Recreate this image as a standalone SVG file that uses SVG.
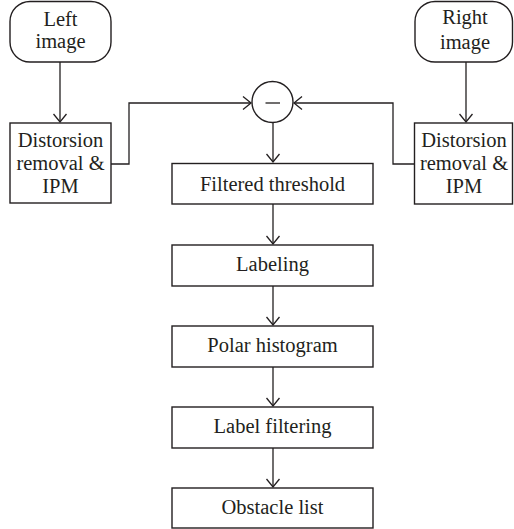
<svg xmlns="http://www.w3.org/2000/svg" width="514" height="529" viewBox="0 0 514 529">
<defs>
<marker id="arr" markerWidth="12" markerHeight="14" refX="9" refY="7" orient="auto" markerUnits="userSpaceOnUse">
<path d="M1,0.5 L9,7 L1,13.5" fill="none" stroke="#231f20" stroke-width="1.3"/>
</marker>
</defs>
<style>
.b{fill:#fff;stroke:#231f20;stroke-width:1.4}
.t{font-family:"Liberation Serif","Times New Roman",serif;font-size:20.5px;fill:#231f20;text-anchor:middle}
.c{fill:none;stroke:#231f20;stroke-width:1.3}
</style>
<rect width="514" height="529" fill="#fff"/>
<g id="connectors">
<line class="c" x1="60" y1="62" x2="60" y2="122" marker-end="url(#arr)"/>
<line class="c" x1="466" y1="62" x2="466" y2="122" marker-end="url(#arr)"/>
<polyline class="c" points="111,164 129,164 129,103 251,103" marker-end="url(#arr)"/>
<polyline class="c" points="414,164 393,164 393,103 294,103" marker-end="url(#arr)"/>
<line class="c" x1="273" y1="123" x2="273" y2="162" marker-end="url(#arr)"/>
<line class="c" x1="273" y1="204" x2="273" y2="244" marker-end="url(#arr)"/>
<line class="c" x1="273" y1="286" x2="273" y2="325" marker-end="url(#arr)"/>
<line class="c" x1="273" y1="367" x2="273" y2="406" marker-end="url(#arr)"/>
<line class="c" x1="273" y1="448" x2="273" y2="487" marker-end="url(#arr)"/>
</g>
<g id="left-image">
<rect class="b" x="10" y="1.5" width="101" height="60.5" rx="20" ry="20"/>
<text class="t" x="60.5" y="26">Left</text>
<text class="t" x="60.5" y="48">image</text>
</g>
<g id="right-image">
<rect class="b" x="415" y="1.5" width="97.5" height="60.5" rx="20" ry="20"/>
<text class="t" x="465" y="24">Right</text>
<text class="t" x="465" y="49">image</text>
</g>
<g id="left-ipm">
<rect class="b" x="10" y="123" width="101" height="80"/>
<text class="t" x="60.5" y="147">Distorsion</text>
<text class="t" x="60.5" y="170">removal &amp;</text>
<text class="t" x="60.5" y="193">IPM</text>
</g>
<g id="right-ipm">
<rect class="b" x="414.5" y="123" width="98" height="81"/>
<text class="t" x="464" y="147">Distorsion</text>
<text class="t" x="464" y="170">removal &amp;</text>
<text class="t" x="464" y="193">IPM</text>
</g>
<g id="subtract">
<circle class="b" cx="272.5" cy="102" r="20.5"/>
<line class="c" x1="265.5" y1="103" x2="280" y2="103"/>
</g>
<g id="filtered-threshold">
<rect class="b" x="172" y="163.5" width="201" height="40.5"/>
<text class="t" x="272.5" y="191">Filtered threshold</text>
</g>
<g id="labeling">
<rect class="b" x="172" y="245" width="201" height="41"/>
<text class="t" x="272.5" y="271">Labeling</text>
</g>
<g id="polar-histogram">
<rect class="b" x="172" y="326" width="201" height="41"/>
<text class="t" x="272.5" y="352">Polar histogram</text>
</g>
<g id="label-filtering">
<rect class="b" x="172" y="407" width="201" height="41"/>
<text class="t" x="272.5" y="433">Label filtering</text>
</g>
<g id="obstacle-list">
<rect class="b" x="172" y="488" width="201" height="40"/>
<text class="t" x="272.5" y="514">Obstacle list</text>
</g>
</svg>
